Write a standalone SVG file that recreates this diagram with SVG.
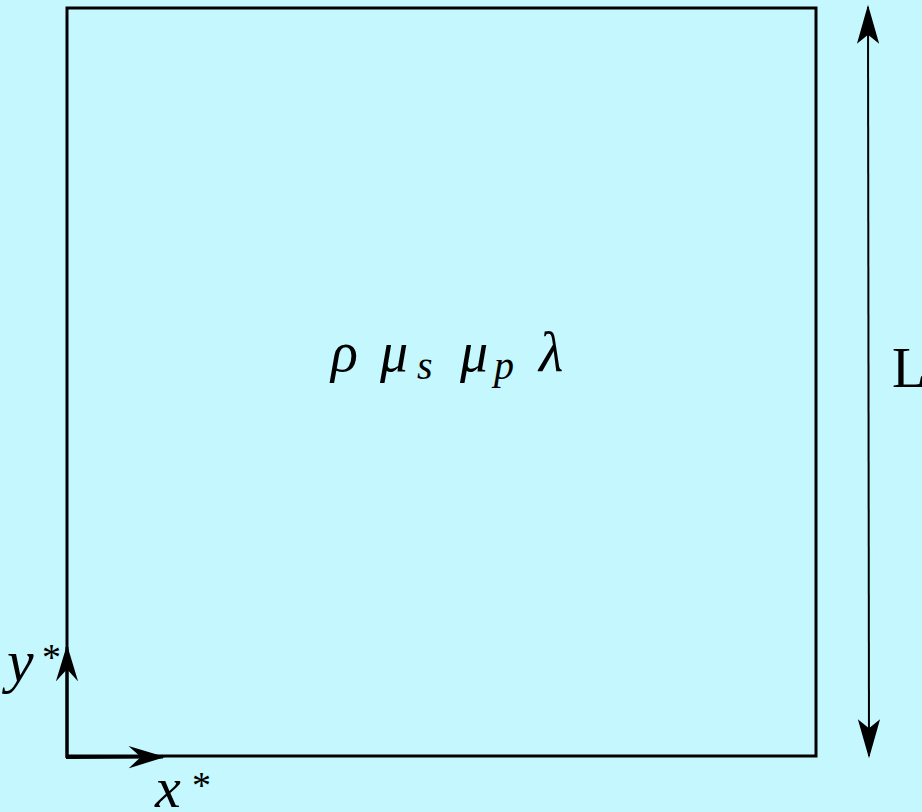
<svg xmlns="http://www.w3.org/2000/svg" width="922" height="812" viewBox="0 0 922 812">
<style>
.math{font-family:"Liberation Serif","DejaVu Serif",serif;font-style:italic;fill:#000}
.rm{font-family:"Liberation Serif","DejaVu Serif",serif;fill:#000}
.ln{stroke:#000;fill:none}
</style>
<defs>
<marker id="head" markerUnits="userSpaceOnUse" markerWidth="40" markerHeight="24" viewBox="0 0 36 20" refX="33" refY="10" orient="auto-start-reverse">
<path d="M0,0 L35,10 L0,20 L8,10 Z" fill="#000"/>
</marker>
<marker id="headB" markerUnits="userSpaceOnUse" markerWidth="40" markerHeight="24" viewBox="0 0 36 20" refX="31" refY="10" orient="auto">
<path d="M0,0 L33,10 L0,20 L11,10 Z" fill="#000"/>
</marker>
</defs>
<rect width="922" height="812" fill="#c4f8fe"/>
<g id="domain">
<rect x="67" y="8" width="749" height="748" class="ln" stroke-width="3"/>
<text class="math" x="331" y="371" font-size="56">ρ</text>
<text class="math" x="380" y="371" font-size="56">μ</text>
<text class="math" x="417" y="379" font-size="40">s</text>
<text class="math" x="460" y="371" font-size="56">μ</text>
<text class="math" x="494" y="379" font-size="40">p</text>
<text class="math" x="539" y="371" font-size="56">λ</text>
</g>
<g id="connectors">
<line x1="868" y1="7" x2="869" y2="756" class="ln" stroke-width="2" marker-start="url(#head)" marker-end="url(#head)"/>
<line x1="67" y1="758" x2="67" y2="647" class="ln" stroke-width="3" marker-end="url(#headB)"/>
<line x1="66" y1="757.5" x2="163" y2="757" class="ln" stroke-width="3" marker-end="url(#headB)"/>
</g>
<g id="dimension-label">
<text class="rm" x="892" y="387" font-size="56">L</text>
</g>
<g id="axis-labels">
<text class="math" x="7" y="681" font-size="60">y</text>
<text class="rm" x="42" y="670" font-size="38">*</text>
<text class="math" x="155" y="807" font-size="58">x</text>
<text class="rm" x="192" y="798" font-size="38">*</text>
</g>
</svg>
